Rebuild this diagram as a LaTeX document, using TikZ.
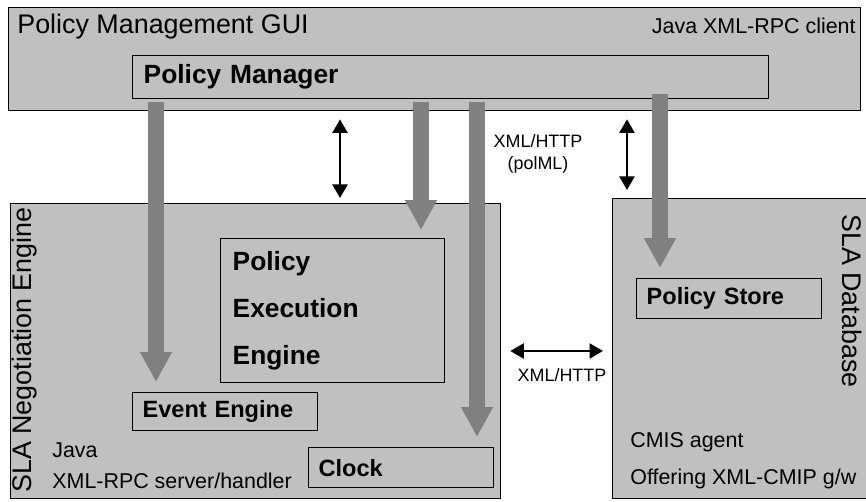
\documentclass[tikz,border=0pt]{standalone}
\usepackage{fontspec}
\setmainfont{Liberation Sans}
\usetikzlibrary{arrows.meta,positioning}
\definecolor{boxfill}{HTML}{C0C0C0}
\definecolor{flowgray}{HTML}{808080}

\begin{document}
\begin{tikzpicture}[x=0.02cm,y=-0.02cm,
  box/.style={draw=black,line width=0.8pt,fill=boxfill,anchor=north west,inner sep=0pt},
  part/.style={box,minimum width=3.7cm,minimum height=0.78cm,inner xsep=0.2cm,text width=3.3cm,align=left,font=\fontsize{13.4}{16}\selectfont\bfseries},
  bigarrow/.style={flowgray,line width=0.32cm,-{Triangle[width=0.6cm,length=0.6cm]},shorten >=0.2cm},
  dblarrow/.style={black,line width=1.3pt,{Triangle[width=0.3cm,length=0.27cm]}-{Triangle[width=0.3cm,length=0.27cm]}},
  big/.style={font=\fontsize{15.3}{18}\selectfont,inner sep=0pt},
  small/.style={font=\fontsize{12.2}{14}\selectfont,inner sep=0pt,anchor=west},
  proto/.style={font=\fontsize{10.2}{12.5}\selectfont,inner sep=0pt,align=center}]
\useasboundingbox (0,0) rectangle (866,502);

% outer blocks
\node[box,minimum width=17.04cm,minimum height=2.06cm] (gui) at (8,7) {};
\node[box,minimum width=9.8cm,minimum height=5.9cm] (neg) at (10,203) {};
\node[box,minimum width=5.12cm,minimum height=6cm] (db) at (612,198) {};

% inner blocks
\node[box,minimum width=12.72cm,minimum height=0.86cm,inner xsep=0.22cm,text width=12.28cm,align=left,
  font=\fontsize{15}{18}\selectfont\bfseries] (pm) at (132,55) {Policy Manager};
\node[box,minimum width=4.48cm,minimum height=2.88cm,inner xsep=0.24cm,text width=4cm,align=left,
  font=\fontsize{15}{26.8}\selectfont\bfseries] (pee) at (220,238) {Policy\\Execution\\Engine};
\node[part,minimum height=0.76cm] (event) at (132,392) {Event Engine};
\node[part,minimum height=0.8cm] (clock) at (308,447) {Clock};
\node[part,minimum height=0.8cm] (store) at (636,278) {Policy Store};

% block titles and notes
\node[big,anchor=west] (guititle) at (17,27) {Policy Management GUI};
\node[small,anchor=east] (guinote) at (856,26) {Java XML-RPC client};
\node[big,rotate=90] (negtitle) at (25,350) {SLA Negotiation Engine};
\node[big,rotate=-90] (dbtitle) at (852,301) {SLA Database};
\node[small] (java) at (52,450) {Java};
\node[small] (rpc) at (52,481) {XML-RPC server/handler};
\node[small] (cmis) at (630,442) {CMIS agent};
\node[small] (cmip) at (630,479) {Offering XML-CMIP g/w};

% policy flows
\coordinate (a1) at (156,102);
\coordinate (a2) at (421,102);
\coordinate (a3) at (477,102);
\coordinate (a4) at (660,94);
\draw[bigarrow] (a1) -- (a1 |- event.north);
\draw[bigarrow,shorten >=0.16cm] (a2) -- (a2 |- pee.north);
\draw[bigarrow] (a3) -- (a3 |- clock.north);
\draw[bigarrow] (a4) -- (a4 |- store.north);

% protocol links
\coordinate (d1) at (340,0);
\coordinate (d2) at (627,0);
\coordinate (d3) at (0,351);
\draw[dblarrow,shorten <=0.16cm,shorten >=0.1cm] (gui.south -| d1) -- (neg.north -| d1);
\draw[dblarrow,shorten <=0.16cm,shorten >=0.16cm] (gui.south -| d2) -- (db.north -| d2);
\draw[dblarrow,shorten <=0.18cm,shorten >=0.18cm] (neg.east |- d3) -- (db.west |- d3);
\node[proto] (pollabel) at (538,154) {XML/HTTP\\(polML)};
\node[proto] (dblabel) at (562,375) {XML/HTTP};
\end{tikzpicture}
\end{document}
